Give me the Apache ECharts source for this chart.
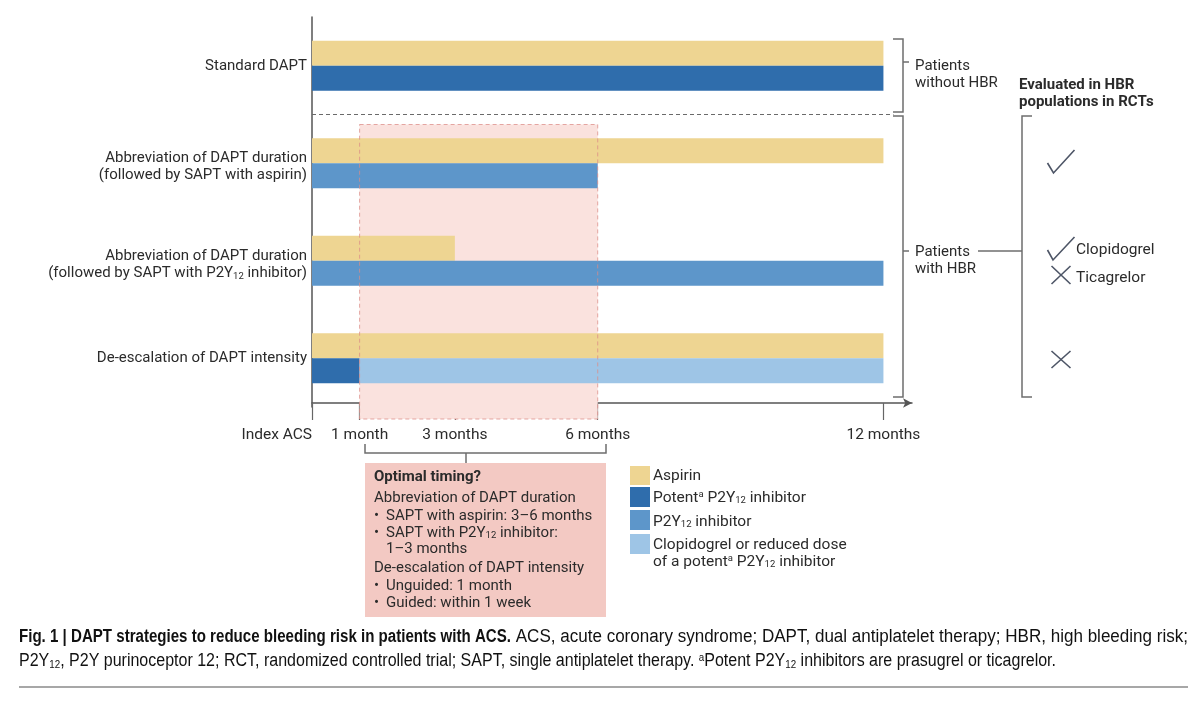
<!DOCTYPE html>
<html>
<head>
<meta charset="utf-8">
<script src="https://cdn.jsdelivr.net/npm/echarts@6/dist/echarts.min.js"></script>
<style>html,body{margin:0;padding:0;background:#fff}#c{width:1200px;height:703px}</style>
</head>
<body>
<div id="c"></div>
<script>
// ---- data ----
const categories = [
  'Standard DAPT',
  'Abbreviation of DAPT duration\n(followed by SAPT with aspirin)',
  'Abbreviation of DAPT duration\n(followed by SAPT with P2Y12 inhibitor)',
  'De-escalation of DAPT intensity'
];
// [start month, end month] per row (null = no bar)
const aspirin      = [[0, 12], [0, 12], [0, 3], [0, 12]];
const potentP2Y12  = [[0, 12], null, null, [0, 1]];
const p2y12        = [null, [0, 6], [0, 12], null];
const reducedP2Y12 = [null, null, null, [1, 12]];
const optimalWindow = [1, 6];
const tickMonths = [0, 1, 3, 6, 12];
const tickLabels = ['Index ACS', '1 month', '3 months', '6 months', '12 months'];

const FONT = 'Roboto';
const TXT = '#2b2b2b';
const FS = 15;
const COLORS = { aspirin: '#eed592', potent: '#2f6dac', p2y12: '#5d96ca', reduced: '#9ec5e6' };

function toItems(spans) {
  const out = [];
  spans.forEach((s, i) => { if (s) out.push([s[0], s[1], i]); });
  return out;
}
function barRender(slot) {
  return function (params, api) {
    const r = api.value(2);
    const p0 = api.coord([api.value(0), r]);
    const p1 = api.coord([api.value(1), r]);
    const h = 25;
    return {
      type: 'rect',
      shape: { x: p0[0], y: slot === 'top' ? p0[1] - h : p0[1], width: p1[0] - p0[0], height: h },
      style: { fill: api.visual('color') }
    };
  };
}
function barSeries(name, spans, color, slot) {
  return {
    type: 'custom', name: name, z: 3,
    renderItem: barRender(slot),
    itemStyle: { color: color },
    encode: { x: [0, 1], y: 2 },
    data: toItems(spans),
    silent: true
  };
}
function yLabel(v) {
  const parts = v.split('\n');
  const fmt = p => '{t|' + p.replace(/P2Y12/g, 'P2Y}{s|12}{t|') + '}';
  if (parts.length === 1) return fmt(parts[0]);
  return '{e| }\n' + fmt(parts[0]) + '\n' + fmt(parts[1]);
}

const chart = echarts.init(document.getElementById('c'), null, { renderer: 'canvas' });

const grey = '#6e6e6e';
const mark = '#4d5566';

function txt(x, y, text, extra) {
  return {
    type: 'text', z: 10,
    style: Object.assign({
      x: x, y: y, text: text, fontFamily: FONT, fontSize: FS, fill: TXT,
      verticalAlign: 'middle', align: 'left',
      rich: {
        s: { fontSize: 9.5, fontFamily: FONT, fill: TXT, verticalAlign: 'bottom', padding: [5, 0, 0, 0] },
        a: { fontSize: 9.5, fontFamily: FONT, fill: TXT, verticalAlign: 'top', padding: [0, 0, 4, 0] }
      }
    }, extra || {})
  };
}
function line(x1, y1, x2, y2, color, w, dash) {
  return { type: 'line', z: 10, shape: { x1: x1, y1: y1, x2: x2, y2: y2 },
    style: { stroke: color || grey, lineWidth: w || 1.5, lineDash: dash || null } };
}
function poly(points, color, w) {
  return { type: 'polyline', z: 10, shape: { points: points },
    style: { stroke: color || grey, lineWidth: w || 1.5, fill: null } };
}

// caption sizing (condensed look by horizontal scaling)
const capFont = '"Liberation Sans", Arial, sans-serif';
const capSize = 18;
const capSub = 11;
const cap1b = 'Fig. 1 | DAPT strategies to reduce bleeding risk in patients with ACS.';
const cap1r = ' ACS, acute coronary syndrome; DAPT, dual antiplatelet therapy; HBR, high bleeding risk;';
const cap2 = [
  ['r', 'P2Y'], ['s', '12'], ['r', ', P2Y purinoceptor 12; RCT, randomized controlled trial; SAPT, single antiplatelet therapy. '],
  ['a', 'a'], ['r', 'Potent P2Y'], ['s', '12'], ['r', ' inhibitors are prasugrel or ticagrelor.']
];
const mctx = document.createElement('canvas').getContext('2d');
mctx.font = 'bold ' + capSize + 'px ' + capFont;
const wB = mctx.measureText(cap1b).width;
mctx.font = capSize + 'px ' + capFont;
const wR = mctx.measureText(cap1r).width;
let w2 = 0;
cap2.forEach(function (p) {
  mctx.font = (p[0] === 'r' ? capSize : capSub) + 'px ' + capFont;
  w2 += mctx.measureText(p[1]).width;
});
const scaleB = 492 / wB;
const scaleR = 677 / wR;
const scale2 = 1037 / w2;

const graphics = [
  // brackets right
  poly([[893, 39], [903, 39], [903, 112], [893, 112]]),
  line(903, 62, 909, 62),
  txt(915, 66, 'Patients'), txt(915, 83, 'without HBR'),
  poly([[893, 116], [903, 116], [903, 397], [893, 397]]),
  line(903, 251, 909, 251),
  txt(915, 252, 'Patients'), txt(915, 269, 'with HBR'),
  line(978, 251, 1022, 251),
  poly([[1032, 116], [1022, 116], [1022, 397], [1032, 397]]),
  txt(1019, 85, 'Evaluated in HBR', { fontWeight: 'bold', fontSize: 15 }),
  txt(1019, 102, 'populations in RCTs', { fontWeight: 'bold', fontSize: 15 }),
  // marks
  poly([[1047.5, 163], [1053.5, 173], [1074.5, 150]], mark, 1.6),
  poly([[1047.5, 250], [1053, 260], [1074.5, 237]], mark, 1.6),
  txt(1076, 250, 'Clopidogrel', { fontSize: 15.5 }),
  line(1051.5, 266, 1070.5, 284, mark, 1.6), line(1070.5, 266, 1051.5, 284, mark, 1.6),
  txt(1076, 278, 'Ticagrelor', { fontSize: 15.5 }),
  line(1051.5, 351, 1070.5, 368, mark, 1.6), line(1070.5, 351, 1051.5, 368, mark, 1.6),
  // bracket under axis
  poly([[365, 444], [365, 453], [606, 453], [606, 444]]),
  line(466, 453, 466, 463),
  // optimal timing box
  { type: 'rect', z: 9, shape: { x: 365, y: 463, width: 241, height: 154 }, style: { fill: '#f3c9c3' } },
  txt(374, 477, 'Optimal timing?', { fontWeight: 'bold' }),
  txt(374, 498, 'Abbreviation of DAPT duration'),
  txt(374, 516, '•'), txt(386, 516, 'SAPT with aspirin: 3–6 months'),
  txt(374, 533, '•'), txt(386, 533, 'SAPT with P2Y{s|12} inhibitor:'),
  txt(386, 549, '1–3 months'),
  txt(374, 568, 'De-escalation of DAPT intensity'),
  txt(374, 586, '•'), txt(386, 586, 'Unguided: 1 month'),
  txt(374, 603, '•'), txt(386, 603, 'Guided: within 1 week'),
  // legend
  { type: 'rect', z: 10, shape: { x: 630, y: 466, width: 20, height: 19 }, style: { fill: COLORS.aspirin } },
  { type: 'rect', z: 10, shape: { x: 630, y: 487, width: 20, height: 20 }, style: { fill: COLORS.potent } },
  { type: 'rect', z: 10, shape: { x: 630, y: 510, width: 20, height: 20 }, style: { fill: COLORS.p2y12 } },
  { type: 'rect', z: 10, shape: { x: 630, y: 534, width: 20, height: 20 }, style: { fill: COLORS.reduced } },
  txt(653, 476, 'Aspirin', { fontSize: 15.5 }),
  txt(653, 498, 'Potent{a|a} P2Y{s|12} inhibitor', { fontSize: 15.5 }),
  txt(653, 522, 'P2Y{s|12} inhibitor', { fontSize: 15.5 }),
  txt(653, 545, 'Clopidogrel or reduced dose', { fontSize: 15.5 }),
  txt(653, 562, 'of a potent{a|a} P2Y{s|12} inhibitor', { fontSize: 15.5 }),
  // caption
  {
    type: 'text', z: 10, x: 19, y: 637, scaleX: scaleB,
    style: { x: 0, y: 0, verticalAlign: 'middle', text: cap1b,
      fontFamily: capFont, fontWeight: 'bold', fontSize: capSize, fill: '#111' }
  },
  {
    type: 'text', z: 10, x: 511, y: 637, scaleX: scaleR,
    style: { x: 0, y: 0, verticalAlign: 'middle', text: cap1r,
      fontFamily: capFont, fontSize: capSize, fill: '#111' }
  },
  {
    type: 'text', z: 10, x: 19, y: 661, scaleX: scale2,
    style: {
      x: 0, y: 0, verticalAlign: 'middle',
      text: cap2.map(function (p) { return '{' + p[0] + '|' + p[1] + '}'; }).join(''),
      rich: {
        r: { fontFamily: capFont, fontSize: capSize, fill: '#111' },
        s: { fontFamily: capFont, fontSize: capSub, fill: '#111', verticalAlign: 'bottom', padding: [6, 0, 0, 0] },
        a: { fontFamily: capFont, fontSize: capSub, fill: '#111', verticalAlign: 'top', padding: [0, 0, 6, 0] }
      }
    }
  },
  line(19, 687, 1188, 687, '#8a8a8a', 1.5)
];

const option = {
  animation: false,
  backgroundColor: '#fff',
  grid: { left: 312, top: 17, width: 600, height: 390, containLabel: false },
  xAxis: {
    type: 'value', min: 0, max: 12.6, offset: -4,
    axisLine: { show: true, lineStyle: { color: '#555', width: 1.5 }, symbol: ['none', 'arrow'], symbolSize: [7, 9] },
    axisTick: { show: true, customValues: tickMonths, length: 17, lineStyle: { color: '#666', width: 1.2 } },
    axisLabel: {
      customValues: tickMonths, margin: 24, fontFamily: FONT, fontSize: 15.5, color: TXT,
      alignMinLabel: 'right',
      formatter: function (v) { const i = tickMonths.indexOf(v); return i >= 0 ? tickLabels[i] : ''; }
    },
    splitLine: { show: false }
  },
  yAxis: {
    type: 'category', inverse: true, data: categories,
    axisLine: { show: true, lineStyle: { color: '#555', width: 1.5 } },
    axisTick: { show: false },
    axisLabel: {
      margin: 5, fontFamily: FONT, fontSize: FS, color: TXT, lineHeight: 17, align: 'right',
      formatter: yLabel,
      rich: {
        t: { fontSize: FS, fontFamily: FONT, color: TXT, lineHeight: 17 },
        e: { fontSize: 2, fontFamily: FONT, lineHeight: 7 },
        s: { fontSize: 9.5, fontFamily: FONT, color: TXT, verticalAlign: 'bottom', lineHeight: 12, padding: [4, 0, 0, 0] }
      }
    },
    splitLine: { show: false }
  },
  series: [
    {
      type: 'custom', name: 'window', z: 1, silent: true,
      encode: { x: [0, 1] },
      data: [optimalWindow],
      renderItem: function (params, api) {
        const cs = params.coordSys;
        const band = api.size([0, 1])[1];
        const x0 = api.coord([api.value(0), 1])[0];
        const x1 = api.coord([api.value(1), 1])[0];
        const yTop = api.coord([0, 1])[1] - band / 2 + 10;
        const yBot = cs.y + cs.height + 12;
        return { type: 'rect', shape: { x: x0, y: yTop, width: x1 - x0, height: yBot - yTop },
          style: { fill: '#fae2de' } };
      }
    },
    barSeries('Aspirin', aspirin, COLORS.aspirin, 'top'),
    barSeries('Potent P2Y12 inhibitor', potentP2Y12, COLORS.potent, 'bottom'),
    barSeries('P2Y12 inhibitor', p2y12, COLORS.p2y12, 'bottom'),
    barSeries('Clopidogrel or reduced dose', reducedP2Y12, COLORS.reduced, 'bottom'),
    {
      type: 'custom', name: 'windowBorder', z: 5, silent: true,
      encode: { x: [0, 1] },
      data: [optimalWindow],
      renderItem: function (params, api) {
        const cs = params.coordSys;
        const band = api.size([0, 1])[1];
        const x0 = api.coord([api.value(0), 1])[0];
        const x1 = api.coord([api.value(1), 1])[0];
        const yTop = api.coord([0, 1])[1] - band / 2 + 10;
        const yBot = cs.y + cs.height + 12;
        const sepY = api.coord([0, 0])[1] + band / 2;
        const xEnd = api.coord([12, 0])[0] + 10;
        return {
          type: 'group',
          children: [
            { type: 'rect', shape: { x: x0, y: yTop, width: x1 - x0, height: yBot - yTop },
              style: { fill: null, stroke: 'rgba(220,140,135,0.75)', lineWidth: 1, lineDash: [4, 3] } },
            { type: 'line', shape: { x1: cs.x, y1: sepY, x2: xEnd, y2: sepY },
              style: { stroke: '#6a6a6a', lineWidth: 1, lineDash: [4, 3] } }
          ]
        };
      }
    }
  ],
  graphic: graphics
};
chart.setOption(option);
</script>
</body>
</html>
